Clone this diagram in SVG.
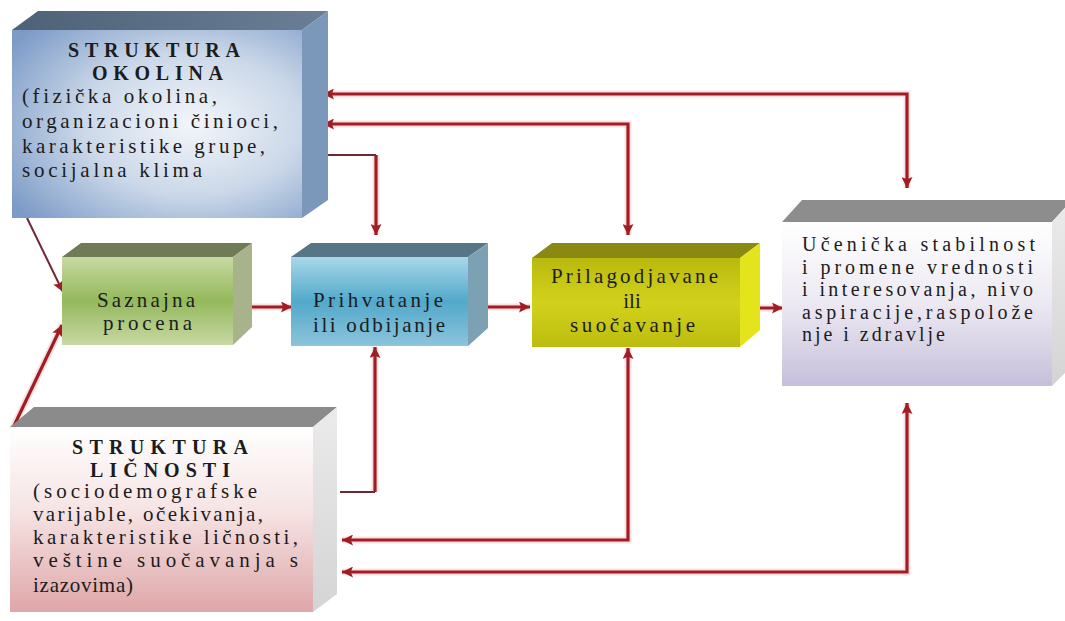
<svg xmlns="http://www.w3.org/2000/svg" width="1065" height="621" viewBox="0 0 1065 621">
<defs>
<style>
.t{font-family:"Liberation Serif","Times New Roman",serif;font-size:21px;fill:#1c1c1c}
.b{font-weight:bold;font-size:20px}
.s{font-size:20px}
.c{fill:none;stroke:#a11c24;stroke-width:3.2}
.g{fill:none;stroke:#f6c4c4;stroke-width:7;opacity:0.5}
.d{fill:none;stroke:#6e2a32;stroke-width:2}
</style>
<marker id="ah" viewBox="0 0 10 10" refX="10" refY="5" markerWidth="11" markerHeight="11" markerUnits="userSpaceOnUse" orient="auto-start-reverse">
<path d="M0,0 L10,5 L0,10 L2,5 z" fill="#a11c24"/>
</marker>
<radialGradient id="g1" cx="0.62" cy="0.5" r="0.75">
<stop offset="0" stop-color="#f3f6fa"/><stop offset="0.5" stop-color="#cbd8e9"/><stop offset="1" stop-color="#7c9bc7"/>
</radialGradient>
<linearGradient id="g1t" x1="0" y1="0" x2="1" y2="0"><stop offset="0" stop-color="#4d6177"/><stop offset="1" stop-color="#6a7e95"/></linearGradient>
<linearGradient id="g2" x1="0" y1="0" x2="0" y2="1"><stop offset="0" stop-color="#c8d9a2"/><stop offset="0.5" stop-color="#94b95c"/><stop offset="1" stop-color="#c9d8a4"/></linearGradient>
<linearGradient id="g3" x1="0" y1="0" x2="0" y2="1"><stop offset="0" stop-color="#a9d7e8"/><stop offset="0.5" stop-color="#52a9cb"/><stop offset="1" stop-color="#8cc4db"/></linearGradient>
<linearGradient id="g4" x1="0" y1="0" x2="0" y2="1"><stop offset="0" stop-color="#b9b90e"/><stop offset="0.5" stop-color="#d2d21c"/><stop offset="1" stop-color="#bcbc10"/></linearGradient>
<linearGradient id="g5" x1="0" y1="0" x2="0" y2="1"><stop offset="0" stop-color="#ffffff"/><stop offset="0.5" stop-color="#ece9f2"/><stop offset="1" stop-color="#c6bfdb"/></linearGradient>
<linearGradient id="g6" x1="0" y1="0" x2="0" y2="1"><stop offset="0" stop-color="#ffffff"/><stop offset="0.45" stop-color="#f6e4e4"/><stop offset="1" stop-color="#dfa6a8"/></linearGradient>
<linearGradient id="gs" x1="0" y1="0" x2="0" y2="1"><stop offset="0" stop-color="#ebebeb"/><stop offset="1" stop-color="#d4d4d4"/></linearGradient>
</defs>

<g id="connectors">
<path class="g" d="M323,94 H907 V188 M323,124 H628 V235 M376,155 V235 M375,492 V347 M342,540 H628 V348 M342,572 H907 V403 M230,307 H292 M468,307 H530 M740,308 H783 M12,430 L62,325"/>
<path class="c" d="M323,94 H907 V188" marker-start="url(#ah)" marker-end="url(#ah)"/>
<path class="c" d="M323,124 H628 V235" marker-start="url(#ah)" marker-end="url(#ah)"/>
<path class="d" d="M323,155 H376"/>
<path class="c" d="M376,155 V235" marker-end="url(#ah)"/>
<path class="d" d="M340,492 H375"/>
<path class="c" d="M375,492 V347" marker-end="url(#ah)"/>
<path class="c" d="M342,540 H628 V348" marker-start="url(#ah)" marker-end="url(#ah)"/>
<path class="c" d="M342,572 H907 V403" marker-start="url(#ah)" marker-end="url(#ah)"/>
<path class="c" d="M230,307 H292" marker-end="url(#ah)"/>
<path class="c" d="M468,307 H530" marker-end="url(#ah)"/>
<path class="c" d="M740,308 H783" marker-end="url(#ah)"/>
<path class="d" d="M27,218 L63,292" stroke-width="2.4" marker-end="url(#ah)"/>
<path class="c" d="M12,430 L62,325" marker-end="url(#ah)"/>
</g>

<g id="struktura-okolina">
<polygon points="12,30 38,11 328,11 302,30" fill="url(#g1t)"/>
<polygon points="302,30 328,11 328,200 302,218" fill="#7b97ba"/>
<rect x="12" y="30" width="290" height="188" fill="url(#g1)"/>
<text class="t b" x="68" y="57" textLength="172" lengthAdjust="spacing">STRUKTURA</text>
<text class="t b" x="92" y="80" textLength="131" lengthAdjust="spacing">OKOLINA</text>
<text class="t" x="22" y="103" textLength="195" lengthAdjust="spacing">(fizička okolina,</text>
<text class="t" x="22" y="128" textLength="256" lengthAdjust="spacing">organizacioni činioci,</text>
<text class="t" x="22" y="153" textLength="243" lengthAdjust="spacing">karakteristike grupe,</text>
<text class="t" x="22" y="177" textLength="180" lengthAdjust="spacing">socijalna klima</text>
</g>

<g id="saznajna-procena">
<polygon points="62,257 81,243 252,243 233,257" fill="#6f7b56"/>
<polygon points="233,257 252,243 252,327 233,345" fill="#a9b38b"/>
<rect x="62" y="257" width="171" height="88" fill="url(#g2)"/>
<text class="t" x="97" y="307" textLength="98" lengthAdjust="spacing">Saznajna</text>
<text class="t" x="103" y="330" textLength="89" lengthAdjust="spacing">procena</text>
</g>

<g id="prihvatanje">
<polygon points="291,257 311,243 488,243 468,257" fill="#567686"/>
<polygon points="468,257 488,243 488,328 468,346" fill="#7ca1b2"/>
<rect x="291" y="257" width="177" height="89" fill="url(#g3)"/>
<text class="t" x="313" y="307" textLength="130" lengthAdjust="spacing">Prihvatanje</text>
<text class="t" x="313" y="332" textLength="132" lengthAdjust="spacing">ili odbijanje</text>
</g>

<g id="prilagodjavane">
<polygon points="532,258 552,243 760,243 740,258" fill="#8a8a12"/>
<polygon points="740,258 760,243 760,330 740,347" fill="#e4e41c"/>
<rect x="532" y="258" width="208" height="89" fill="url(#g4)"/>
<text class="t" x="551" y="283" textLength="167" lengthAdjust="spacing">Prilagodjavane</text>
<text class="t" x="632" y="308" text-anchor="middle">ili</text>
<text class="t" x="570" y="332" textLength="125" lengthAdjust="spacing">suočavanje</text>
</g>

<g id="ucenicka-stabilnost">
<polygon points="782,222 802,200 1072,200 1052,222" fill="#8d8d8d"/>
<polygon points="1052,222 1072,200 1072,366 1052,386" fill="url(#gs)"/>
<rect x="782" y="222" width="270" height="164" fill="url(#g5)"/>
<text class="t s" x="802" y="251" textLength="233" lengthAdjust="spacing">Učenička  stabilnost</text>
<text class="t s" x="802" y="274" textLength="231" lengthAdjust="spacing">i promene vrednosti</text>
<text class="t s" x="802" y="296" textLength="231" lengthAdjust="spacing">i interesovanja, nivo</text>
<text class="t s" x="802" y="319" textLength="231" lengthAdjust="spacing">aspiracije,raspolože</text>
<text class="t s" x="802" y="341" textLength="143" lengthAdjust="spacing">nje i zdravlje</text>
</g>

<g id="struktura-licnosti">
<polygon points="10,427 34,407 337,407 313,427" fill="#8b8b8b"/>
<polygon points="313,427 337,407 337,594 313,612" fill="url(#gs)"/>
<rect x="10" y="427" width="303" height="185" fill="url(#g6)"/>
<text class="t b" x="72" y="454" textLength="176" lengthAdjust="spacing">STRUKTURA</text>
<text class="t b" x="90" y="477" textLength="140" lengthAdjust="spacing">LIČNOSTI</text>
<text class="t" x="33" y="498" textLength="224" lengthAdjust="spacing">(sociodemografske</text>
<text class="t" x="33" y="521" textLength="230" lengthAdjust="spacing">varijable, očekivanja,</text>
<text class="t" x="33" y="544" textLength="265" lengthAdjust="spacing">karakteristike ličnosti,</text>
<text class="t" x="33" y="567" textLength="265" lengthAdjust="spacing">veštine suočavanja s</text>
<text class="t" x="33" y="592" textLength="100" lengthAdjust="spacing">izazovima)</text>
</g>
</svg>
